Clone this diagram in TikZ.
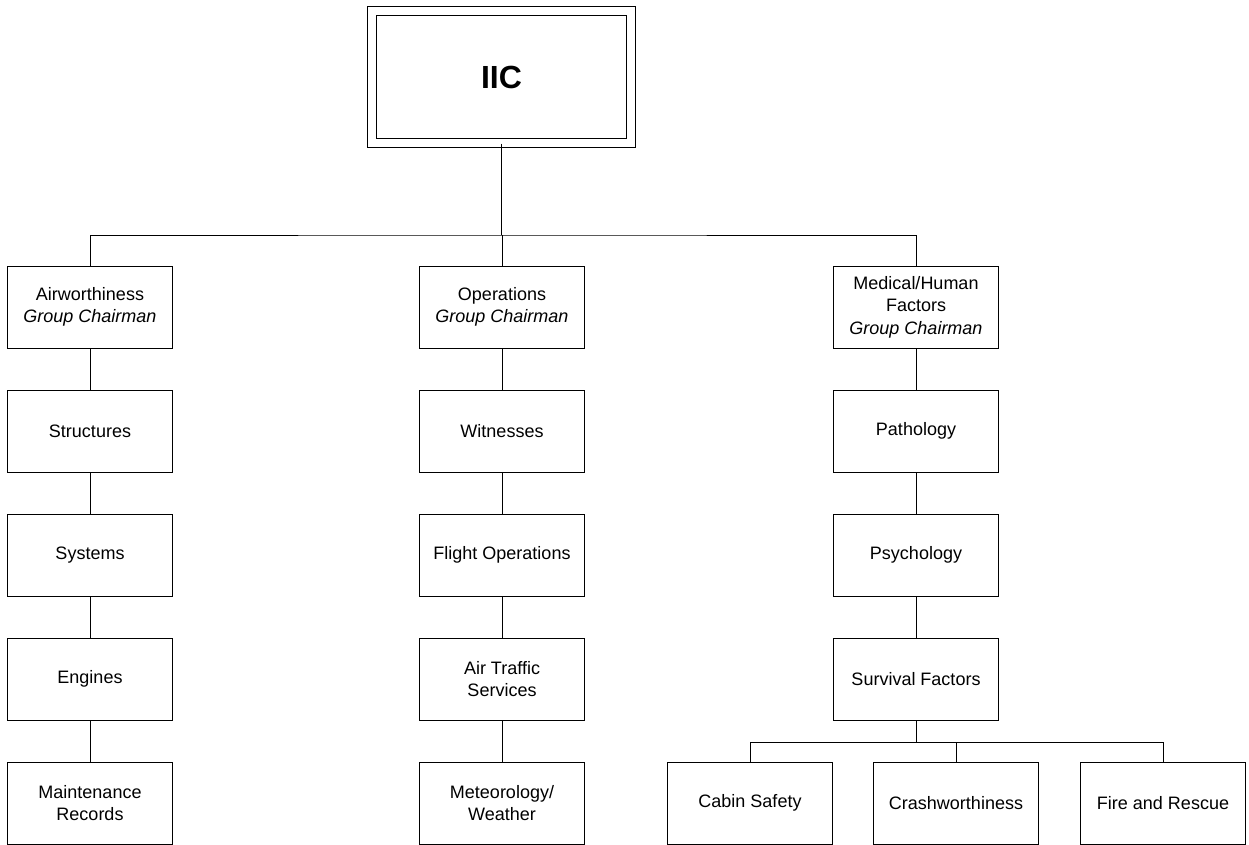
\documentclass[tikz,border=0pt]{standalone}
\usepackage{fontspec}
\setmainfont{Liberation Sans}
\usepackage{tikz}
\usetikzlibrary{positioning}

\begin{document}
\begin{tikzpicture}[x=1pt, y=-1pt, line width=1pt,
  box/.style={shape=rectangle, draw=black, minimum width=165pt, minimum height=82pt,
    align=center, font=\fontsize{18}{22.5}\selectfont},
  chair/.style={box}]
\useasboundingbox (0,0) rectangle (1249,844);
\node[shape=rectangle, draw=black, double, double distance=8pt, minimum width=259pt,
  minimum height=132pt, font=\fontsize{32}{36}\selectfont\bfseries] (iic) at (501.5,77) {IIC};
\node[chair] (air) at (90,307) {Airworthiness\\\textit{Group Chairman}};
\node[chair] (ops) at (502,307) {Operations\\\textit{Group Chairman}};
\node[chair] (med) at (916,307) {Medical/Human\\Factors\\\textit{Group Chairman}};
\node[box] (str) at (90,431) {Structures};
\node[box] (sys) at (90,555) {Systems};
\node[box] (eng) at (90,679) {Engines};
\node[box] (mnt) at (90,803) {Maintenance\\Records};
\node[box] (wit) at (502,431) {Witnesses};
\node[box] (flt) at (502,555) {Flight Operations};
\node[box] (atc) at (502,679) {Air Traffic\\Services};
\node[box] (met) at (502,803) {Meteorology/\\Weather};
\node[box] (pat) at (916,431) {Pathology};
\node[box] (psy) at (916,555) {Psychology};
\node[box] (srv) at (916,679) {Survival Factors};
\node[box] (cab) at (750,803) {Cabin Safety};
\node[box] (crs) at (956,803) {Crashworthiness};
\node[box] (fir) at (1163,803) {Fire and Rescue};
\coordinate (bus) at (501.5,235);
\coordinate (sbus) at (916,742);
\draw (iic.south) -- (bus);
\draw (air.north) |- (bus) -| (med.north);
\draw (bus) -| (ops.north);
\draw (air) -- (str);
\draw (str) -- (sys);
\draw (sys) -- (eng);
\draw (eng) -- (mnt);
\draw (ops) -- (wit);
\draw (wit) -- (flt);
\draw (flt) -- (atc);
\draw (atc) -- (met);
\draw (med) -- (pat);
\draw (pat) -- (psy);
\draw (psy) -- (srv);
\draw (srv.south) -- (sbus);
\draw (cab.north) |- (sbus) -| (fir.north);
\draw (sbus) -| (crs.north);
\end{tikzpicture}
\end{document}
